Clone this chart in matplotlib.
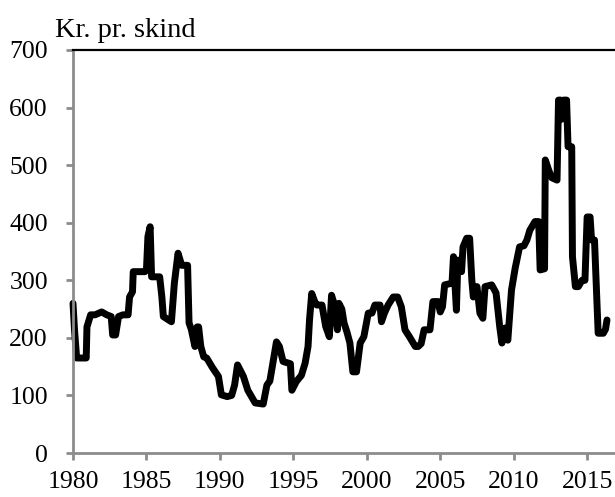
import matplotlib
matplotlib.use("Agg")
import matplotlib.pyplot as plt

# price per skin
years = [
    1980.0, 1980.1, 1980.25, 1980.9, 1980.95, 1981.2, 1981.5, 1981.95, 1982.3,
    1982.6, 1982.7, 1982.9, 1983.1, 1983.4, 1983.75, 1983.85, 1984.05, 1984.1,
    1984.9, 1985.0, 1985.1, 1985.25, 1985.35, 1985.9, 1986.05, 1986.15, 1986.7,
    1986.9, 1987.15, 1987.4, 1987.8, 1987.9, 1988.05, 1988.3, 1988.45, 1988.55,
    1988.7, 1988.9, 1989.1, 1989.5, 1989.9, 1990.1, 1990.5, 1990.8, 1991.0,
    1991.2, 1991.6, 1991.9, 1992.4, 1992.95, 1993.2, 1993.4, 1993.55, 1993.85,
    1994.05, 1994.3, 1994.8, 1994.9, 1995.2, 1995.55, 1995.8, 1996.0, 1996.1,
    1996.25, 1996.5, 1996.6, 1996.95, 1997.2, 1997.45, 1997.6, 1997.8, 1998.0,
    1998.1, 1998.3, 1998.45, 1998.65, 1998.85, 1999.05, 1999.3, 1999.55, 1999.8,
    2000.1, 2000.35, 2000.55, 2000.9, 2001.0, 2001.2, 2001.45, 2001.8, 2002.1,
    2002.35, 2002.6, 2002.9, 2003.3, 2003.5, 2003.7, 2003.9, 2004.2, 2004.3,
    2004.5, 2004.85, 2005.0, 2005.15, 2005.3, 2005.8, 2005.9, 2006.1, 2006.2,
    2006.45, 2006.55, 2006.8, 2007.0, 2007.15, 2007.25, 2007.5, 2007.7, 2007.9,
    2008.05, 2008.5, 2008.8, 2009.05, 2009.2, 2009.4, 2009.6, 2009.85, 2010.1,
    2010.4, 2010.7, 2010.9, 2011.1, 2011.45, 2011.7, 2011.8,
    2012.1, 2012.15, 2012.4, 2012.6, 2012.95, 2013.05, 2013.2, 2013.3, 2013.4,
    2013.6, 2013.7, 2013.95, 2014.0, 2014.2, 2014.4, 2014.65, 2014.85, 2015.0,
    2015.2, 2015.3, 2015.5, 2015.75, 2016.1, 2016.25, 2016.35,
]
price = [
    260, 215, 165, 165, 219, 240, 240, 245, 240,
    237, 205, 205, 237, 240, 240, 271, 280, 315,
    315, 318, 376, 393, 306, 306, 271, 237, 228,
    295, 347, 326, 326, 226, 215, 185, 219, 219,
    185, 167, 165, 148, 133, 101, 98, 100, 118,
    153, 133, 109, 87, 85, 118, 125, 148, 193,
    185, 159, 155, 109, 124, 135, 156, 185, 231,
    277, 260, 257, 257, 220, 202, 274, 257, 214,
    260, 250, 226, 210, 191, 141, 141, 191, 202,
    243, 243, 257, 257, 228, 243, 257, 271, 271,
    254, 214, 202, 185, 185, 190, 214, 214, 214,
    263, 263, 245, 254, 292, 295, 341, 248, 335,
    315, 358, 373, 373, 300, 271, 289, 243, 234,
    289, 292, 278, 219, 191, 217, 196, 283, 321,
    358, 360, 370, 387, 402, 402, 318,
    320, 509, 490, 478, 474, 613, 613, 580, 613,
    613, 532, 532, 341, 289, 289, 300, 300, 410,
    410, 370, 370, 208, 208, 215, 231,
]

x_ticks = [1980, 1985, 1990, 1995, 2000, 2005, 2010, 2015]
y_ticks = [0, 100, 200, 300, 400, 500, 600, 700]

plt.rcParams["font.family"] = ["Liberation Serif", "DejaVu Serif"]

fig = plt.figure(figsize=(6.15, 4.97), dpi=100)
ax = fig.add_axes([73 / 615, 44 / 497, 542 / 615, 403 / 497])

ax.plot(years, price, color="black", linewidth=5, solid_joinstyle="round",
        solid_capstyle="round", clip_on=False)

ax.set_xlim(1980, 1980 + 542 / 14.69)
ax.set_ylim(0, 700)
ax.set_xticks(x_ticks)
ax.set_yticks(y_ticks)

grey = "#8c8c8c"
for side in ("left", "bottom"):
    ax.spines[side].set_color(grey)
    ax.spines[side].set_linewidth(2)
ax.spines["right"].set_visible(False)
ax.spines["top"].set_color("black")
ax.spines["top"].set_linewidth(1.6)

ax.tick_params(axis="both", direction="out", length=5, width=2, color=grey,
               labelsize=18.5, labelcolor="black")
ax.tick_params(axis="y", pad=13)
ax.tick_params(axis="x", pad=8)

fig.text(55 / 615, 1 - 37 / 497, "Kr. pr. skind", fontsize=20.5,
         ha="left", va="baseline")

fig.savefig("out.png", dpi=100)
